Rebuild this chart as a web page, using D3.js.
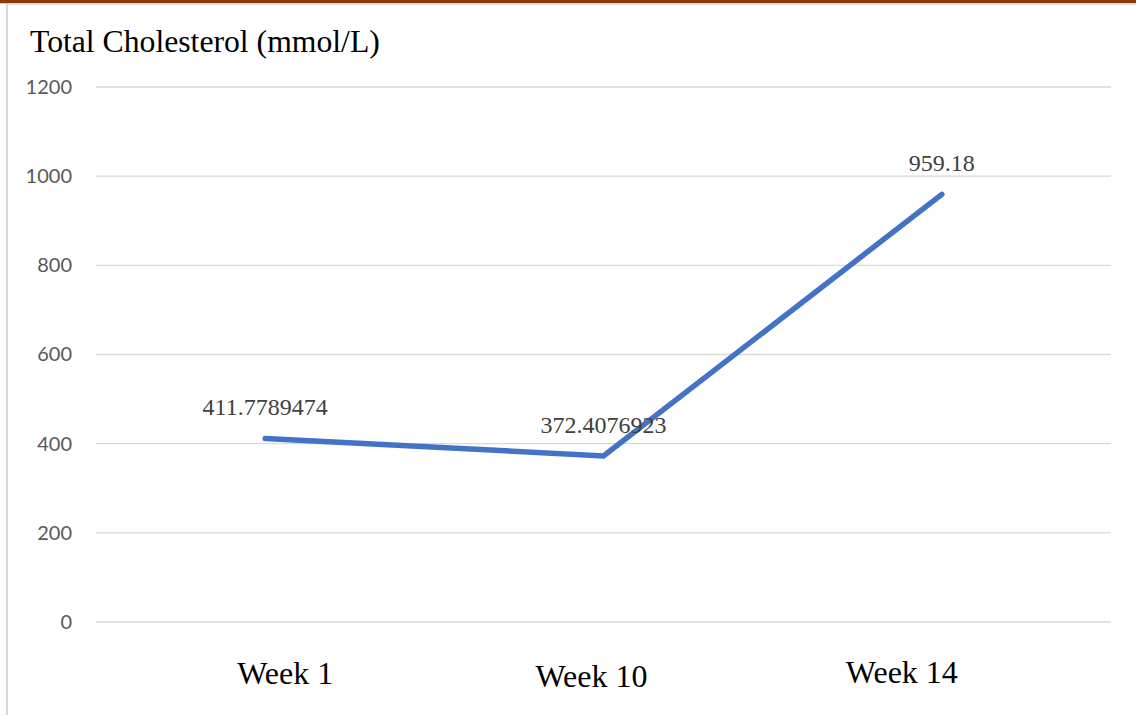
<!DOCTYPE html>
<html>
<head>
<meta charset="utf-8">
<script src="https://cdn.jsdelivr.net/npm/d3@7"></script>
<style>
  html, body { margin: 0; padding: 0; background: #fff; }
  svg { display: block; }
</style>
</head>
<body>
<svg id="chart" width="1136" height="715"></svg>
<script>
// Total cholesterol by week
const categories = ["Week 1", "Week 10", "Week 14"];
const values = [411.7789474, 372.4076923, 959.18];
const valueLabels = ["411.7789474", "372.4076923", "959.18"];
const yTicks = [0, 200, 400, 600, 800, 1000, 1200];
const chartTitle = "Total Cholesterol (mmol/L)";

const svg = d3.select("#chart");
const W = 1136, H = 715;
const plot = { left: 96, right: 1111, top: 87, bottom: 622 };

// frame: brown top band, thin grey borders
svg.append("rect").attr("x", 0).attr("y", 0).attr("width", W).attr("height", 3.3).attr("fill", "#8B3A0F");
svg.append("line").attr("x1", 7).attr("x2", W).attr("y1", 4).attr("y2", 4)
  .attr("stroke", "#D9D9D9").attr("stroke-width", 1.5);
svg.append("line").attr("x1", 7).attr("x2", 7).attr("y1", 4).attr("y2", H)
  .attr("stroke", "#D9D9D9").attr("stroke-width", 2);

const x = d3.scaleBand().domain(categories).range([plot.left, plot.right]);
const y = d3.scaleLinear().domain([0, 1200]).range([plot.bottom, plot.top]);

// gridlines
svg.append("g")
  .selectAll("line")
  .data(yTicks)
  .join("line")
  .attr("x1", plot.left).attr("x2", plot.right)
  .attr("y1", d => y(d)).attr("y2", d => y(d))
  .attr("stroke", "#D9D9D9").attr("stroke-width", 1.3);

// y axis labels
const yAxis = d3.axisLeft(y).tickValues(yTicks).tickFormat(d3.format("d")).tickSize(0).tickPadding(0);
const gy = svg.append("g").attr("transform", "translate(72,0)").call(yAxis);
gy.select(".domain").remove();
gy.selectAll("text")
  .attr("fill", "#595959")
  .style("font-family", "Lato, 'Open Sans', sans-serif")
  .style("font-size", "20px");

// x axis labels (hand-placed text boxes below the plot)
const xLabelShift = [20, -12, -40];
const xLabelY = [684, 687, 683];
svg.append("g")
  .selectAll("text")
  .data(categories)
  .join("text")
  .attr("x", (d, i) => x(d) + x.bandwidth() / 2 + xLabelShift[i])
  .attr("y", (d, i) => xLabelY[i])
  .attr("text-anchor", "middle")
  .attr("fill", "#000")
  .style("font-family", "'Liberation Serif', 'Times New Roman', serif")
  .style("font-size", "32px")
  .text(d => d);

// title
svg.append("text")
  .attr("x", 30).attr("y", 52)
  .attr("fill", "#000")
  .style("font-family", "'Liberation Serif', 'Times New Roman', serif")
  .style("font-size", "31.7px")
  .text(chartTitle);

// series line
const line = d3.line()
  .x((d, i) => x(categories[i]) + x.bandwidth() / 2)
  .y(d => y(d));

svg.append("path")
  .datum(values)
  .attr("d", line)
  .attr("fill", "none")
  .attr("stroke", "#4472C4")
  .attr("stroke-width", 5.5)
  .attr("stroke-linecap", "round")
  .attr("stroke-linejoin", "miter");

// data labels
svg.append("g")
  .selectAll("text")
  .data(values)
  .join("text")
  .attr("x", (d, i) => x(categories[i]) + x.bandwidth() / 2)
  .attr("y", d => y(d) - 23)
  .attr("text-anchor", "middle")
  .attr("fill", "#404040")
  .style("font-family", "'Liberation Serif', 'Times New Roman', serif")
  .style("font-size", "24px")
  .text((d, i) => valueLabels[i]);
</script>
</body>
</html>
